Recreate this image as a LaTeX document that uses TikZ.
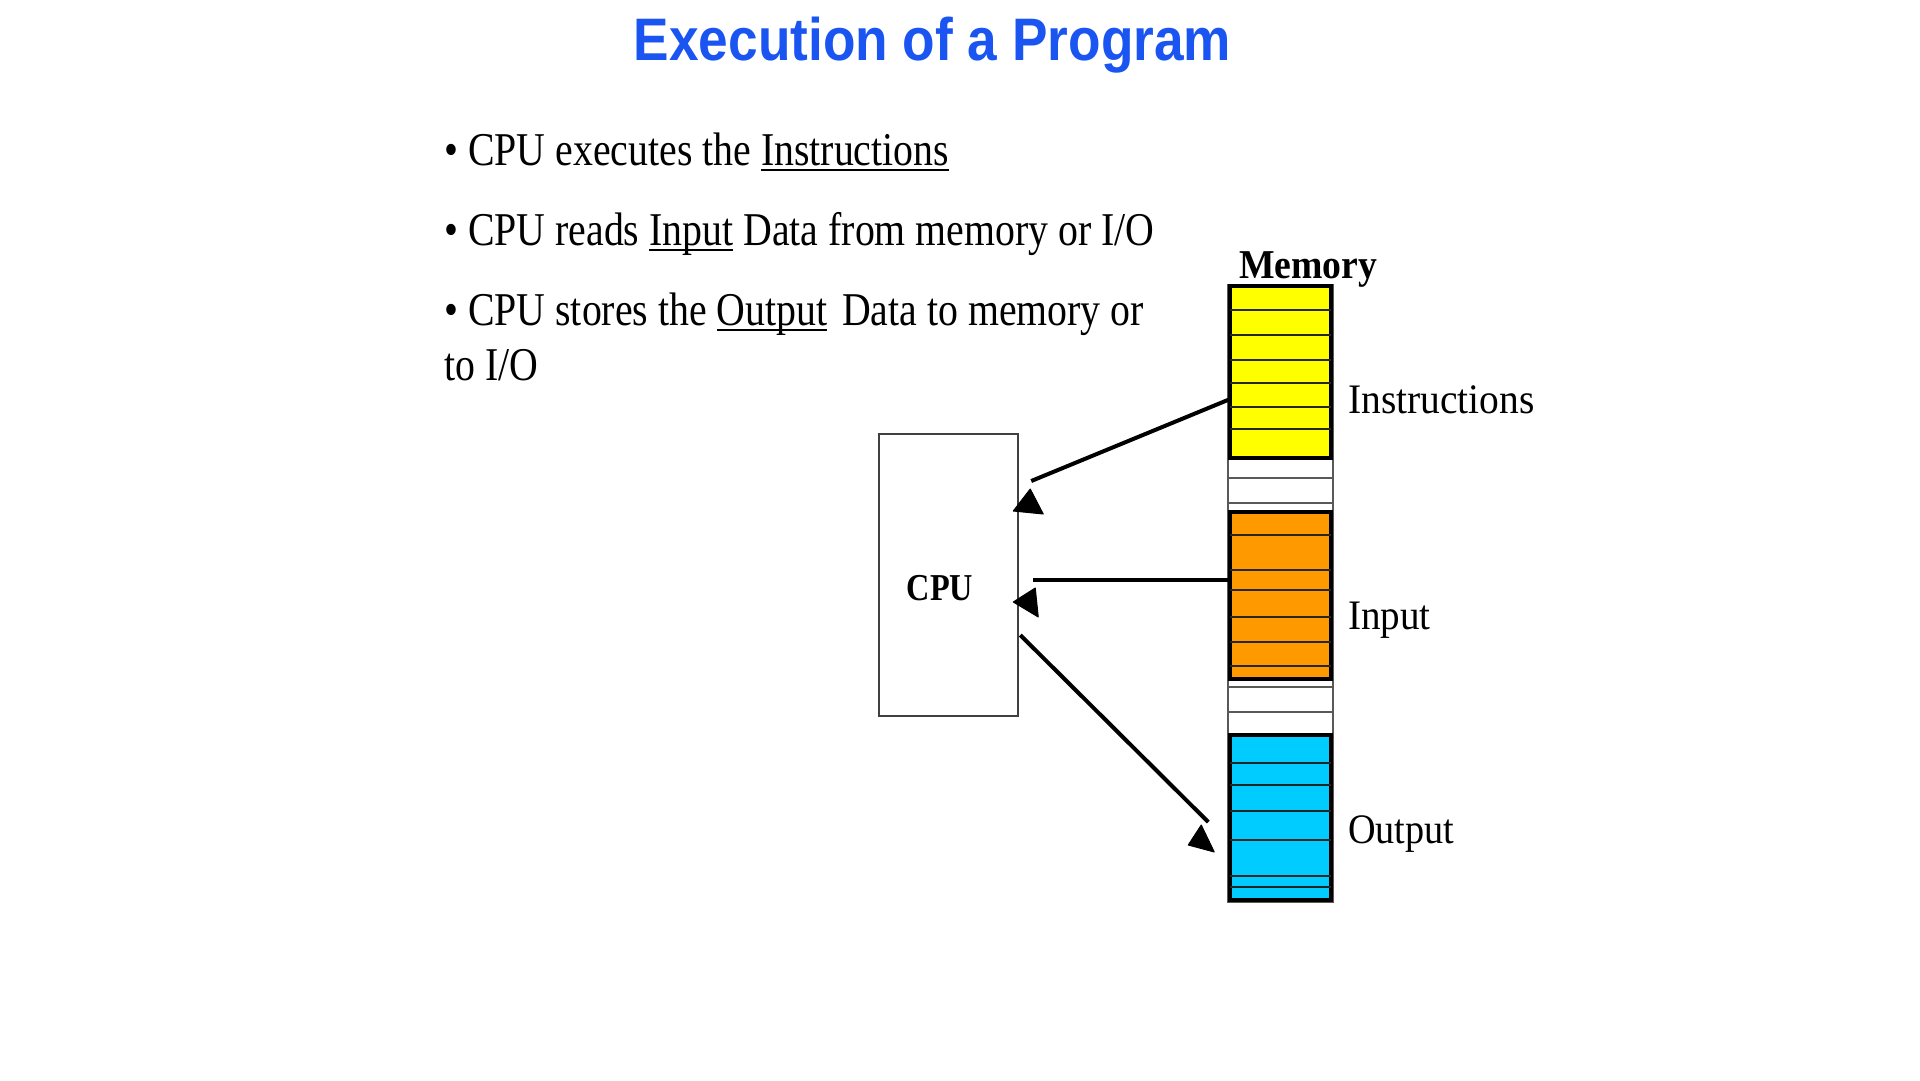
\documentclass[tikz,border=0pt]{standalone}
\usepackage{fontspec}
\setmainfont{Liberation Serif}
\newfontfamily\headfont{Liberation Sans}
\usetikzlibrary{calc}
\definecolor{titleblue}{HTML}{1A55F2}
\definecolor{memyellow}{HTML}{FFFF00}
\definecolor{memorange}{HTML}{FF9900}
\definecolor{memcyan}{HTML}{00CCFF}
% underline drawn just below the baseline, through descenders
\newcommand\ulword[1]{\setbox0\hbox{#1}\rlap{\rule[-6pt]{\wd0}{2pt}}#1}
\tikzset{
  bodytext/.style={anchor=base west, inner sep=0pt},
  memlabel/.style={anchor=base west, inner sep=0pt},
  block/.style={draw=black, line width=3.5pt, minimum width=101pt, inner sep=0pt},
  sepline/.style={draw=black!85, line width=2.5pt},
  greyline/.style={draw=black!65, line width=2pt},
  link/.style={draw=black, line width=4pt},
  tip/.style={fill=black, draw=black, line width=1pt, line join=round},
}
\newcommand\bodyfont{\fontsize{47}{47}\selectfont}
\newcommand\labfont{\fontsize{42}{42}\selectfont}
\begin{document}
\begin{tikzpicture}[x=1pt,y=-1pt]
\fill[white] (0,0) rectangle (1920,1080);
\useasboundingbox (0,0) rectangle (1920,1080);

% title
\node[anchor=base, inner sep=0pt, text=titleblue] (title) at (932.5,60)
  {\scalebox{0.887}[1]{\headfont\bfseries\fontsize{60}{60}\selectfont Execution of a Program}};

% bullet points
\node[bodytext] (b1) at (444,165) {\scalebox{0.847}[1]{\bodyfont \textbullet\ CPU executes the \ulword{Instructions}}};
\node[bodytext] (b2) at (444,245) {\scalebox{0.847}[1]{\bodyfont \textbullet\ CPU reads \ulword{Input} Data from memory or I/O}};
\node[bodytext] (b3) at (444,325) {\scalebox{0.847}[1]{\bodyfont \textbullet\ CPU stores the \ulword{Output}\hspace{0.37em}Data to memory or}};
\node[bodytext] (b4) at (444,380) {\scalebox{0.847}[1]{\bodyfont to I/O}};

% memory column outline
\draw[greyline] (1228,285) rectangle (1333,902);
\draw[greyline] (1228,478) -- (1333,478);
\draw[greyline] (1228,503) -- (1333,503);
\draw[greyline] (1228,687) -- (1333,687);
\draw[greyline] (1228,712) -- (1333,712);

% memory regions
\node[block, fill=memyellow, minimum height=172pt] (instr) at (1280.5,372) {};
\node[block, fill=memorange, minimum height=167pt] (input) at (1280.5,595.5) {};
\node[block, fill=memcyan, minimum height=165pt] (output) at (1280.5,817.5) {};
\foreach \y in {310,335,360,383,407,429}
  \draw[sepline] (1230,\y) -- (1331,\y);
\foreach \y in {535,570,590,617,642,666}
  \draw[sepline] (1230,\y) -- (1331,\y);
\foreach \y in {763,785,811,840,876,887}
  \draw[sepline] (1230,\y) -- (1331,\y);

\node[memlabel] (memtitle) at (1239,278) {\scalebox{0.92}[1]{\fontsize{41}{41}\selectfont\bfseries Memory}};
\node[memlabel] (linstr) at (1348,413) {\scalebox{0.94}[1]{\labfont Instructions}};
\node[memlabel] (linput) at (1348,629) {\scalebox{0.93}[1]{\labfont Input}};
\node[memlabel] (loutput) at (1348,843) {\scalebox{0.91}[1]{\labfont Output}};

% CPU
\node[draw=black!75, line width=2.5pt, minimum width=139pt, minimum height=282pt, inner sep=0pt] (cpu) at (948.5,575) {};
\node[anchor=base, inner sep=0pt] (cpulabel) at (940,600) {\scalebox{0.85}[1]{\fontsize{38}{38}\selectfont\bfseries CPU}};

% connectors
\coordinate (i1) at ($(instr.west)+(2,27)$);
\coordinate (i2) at ($(cpu.east)+(12,-94)$);
\coordinate (n1) at ($(input.west)+(2,-15.5)$);
\coordinate (n2) at ($(cpu.east)+(14,5)$);
\coordinate (o1) at ($(cpu.east)+(1,60)$);
\coordinate (o2) at ($(output.west)+(-20,4.5)$);
\draw[link] (i1) -- (i2);
\draw[link] (n1) -- (n2);
\draw[link] (o1) -- (o2);

% arrowheads
\filldraw[tip] ($(cpu.east)+(11,-86)$) -- ($(cpu.east)+(-6,-64)$) -- ($(cpu.east)+(24,-61)$) -- cycle;
\filldraw[tip] ($(cpu.east)+(-6,27)$) -- ($(cpu.east)+(16,13)$) -- ($(cpu.east)+(19,42)$) -- cycle;
\filldraw[tip] ($(output.west)+(-27,7.5)$) -- ($(output.west)+(-40,27.5)$) -- ($(output.west)+(-14,34.5)$) -- cycle;
\end{tikzpicture}
\end{document}
